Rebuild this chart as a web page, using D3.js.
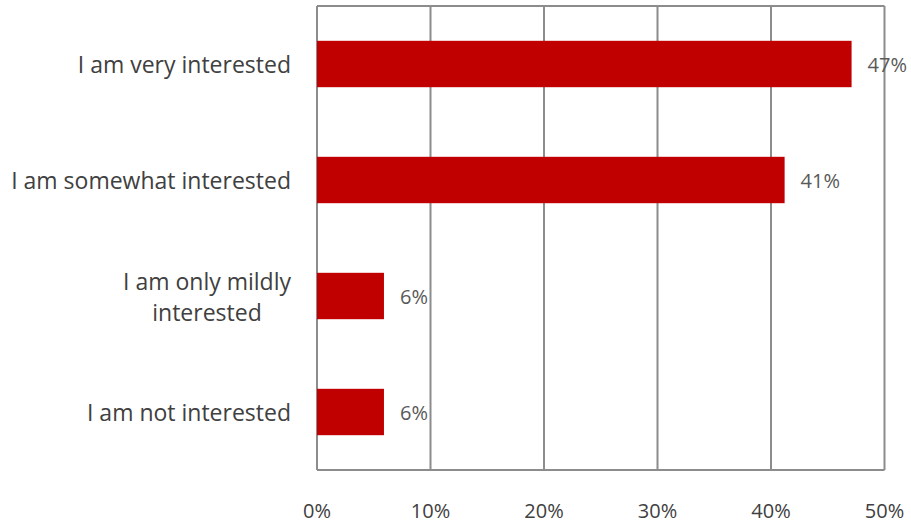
<!DOCTYPE html>
<html><head><meta charset="utf-8">
<script src="https://cdn.jsdelivr.net/npm/d3@7"></script>
<style>body{margin:0;background:#fff}svg{display:block}</style>
</head><body>
<svg id="chart" width="911" height="525"></svg>
<script>
const categories = [["I am very interested"], ["I am somewhat interested"], ["I am only mildly", "interested"], ["I am not interested"]];
const values = [47.1, 41.2, 5.9, 5.9];
const valueLabels = ["47%", "41%", "6%", "6%"];
const ticks = [0, 10, 20, 30, 40, 50];
const tickLabels = ["0%", "10%", "20%", "30%", "40%", "50%"];

const svg = d3.select("#chart");
const m = {left: 317, right: 884.5, top: 6, bottom: 470};
const x = d3.scaleLinear().domain([0, 50]).range([m.left, m.right]);
const y = d3.scaleBand().domain(d3.range(categories.length)).range([m.top, m.bottom]).paddingInner(0.6).paddingOuter(0.3);
const gridColor = "#8c8c8c";
const font = "'Open Sans', sans-serif";

// gridlines
svg.append("g").selectAll("line").data(ticks).join("line")
  .attr("x1", d => x(d)).attr("x2", d => x(d))
  .attr("y1", m.top).attr("y2", m.bottom)
  .attr("stroke", gridColor).attr("stroke-width", 2);
svg.append("line").attr("x1", m.left).attr("x2", m.right).attr("y1", m.top).attr("y2", m.top).attr("stroke", gridColor).attr("stroke-width", 2);
svg.append("line").attr("x1", m.left).attr("x2", m.right).attr("y1", m.bottom).attr("y2", m.bottom).attr("stroke", gridColor).attr("stroke-width", 2);

// bars
svg.append("g").selectAll("rect").data(values).join("rect")
  .attr("x", x(0)).attr("y", (d, i) => y(i))
  .attr("width", d => x(d) - x(0)).attr("height", y.bandwidth())
  .attr("fill", "#c00000");

// value labels
svg.append("g").selectAll("text").data(values).join("text")
  .attr("x", d => x(d) + 16).attr("y", (d, i) => y(i) + y.bandwidth() / 2)
  .attr("dominant-baseline", "central")
  .attr("font-family", font).attr("font-size", 20).attr("fill", "#595959")
  .text((d, i) => valueLabels[i]);

// x tick labels
svg.append("g").selectAll("text").data(ticks).join("text")
  .attr("x", d => x(d)).attr("y", 510)
  .attr("dominant-baseline", "central").attr("text-anchor", "middle")
  .attr("font-family", font).attr("font-size", 20).attr("fill", "#404040")
  .text((d, i) => tickLabels[i]);

// category labels
const labelRight = 291;
categories.forEach((lines, i) => {
  const cy = y(i) + y.bandwidth() / 2;
  const t = svg.append("text").attr("font-family", font).attr("font-size", 23).attr("fill", "#404040")
    .attr("text-anchor", "middle").attr("dominant-baseline", "central");
  const spans = lines.map((ln, j) => t.append("tspan").text(ln)
    .attr("y", cy + (j - (lines.length - 1) / 2) * 31));
  const w = d3.max(spans, s => s.node().getComputedTextLength());
  spans.forEach(s => s.attr("x", labelRight - w / 2));
});
</script>
</body></html>
